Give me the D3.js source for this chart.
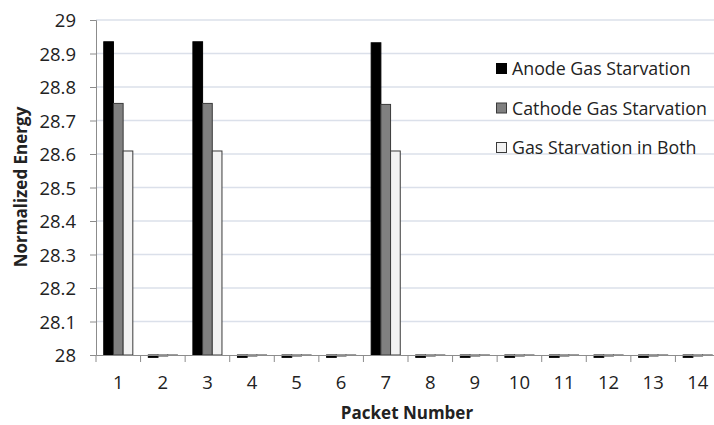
<!DOCTYPE html>
<html><head><meta charset="utf-8">
<script src="https://cdn.jsdelivr.net/npm/d3@7"></script>
<style>
html,body{margin:0;padding:0;background:#fff;overflow:hidden;}
svg{display:block;}
text{font-family:"Open Sans","Liberation Sans",sans-serif;fill:#222;}
</style></head>
<body>
<svg id="chart" width="714" height="425"></svg>
<script>
const packets = ["1","2","3","4","5","6","7","8","9","10","11","12","13","14"];
const seriesNames = ["Anode Gas Starvation","Cathode Gas Starvation","Gas Starvation in Both"];
const anode   = [28.935,27.993,28.935,27.993,27.993,27.993,28.932,27.993,27.993,27.993,27.993,27.993,27.993,27.993];
const cathode = [28.751,27.997,28.751,27.997,27.997,27.997,28.748,27.997,27.997,27.997,27.997,27.997,27.997,27.997];
const both    = [28.609,27.999,28.609,27.999,27.999,27.999,28.609,27.999,27.999,27.999,27.999,27.999,27.999,27.999];
const yTicks = [28,28.1,28.2,28.3,28.4,28.5,28.6,28.7,28.8,28.9,29];
const colors = ["#000000","#808080","#f2f2f2"];

const svg = d3.select("#chart");
const mLeft = 96, mRight = 720, mTop = 20, mBottom = 355;

const x = d3.scaleBand().domain(packets).range([mLeft, mRight]).padding(0);
const xs = d3.scaleBand().domain(seriesNames).range([0, x.bandwidth()]).paddingInner(0).paddingOuter(0.8);
const y = d3.scaleLinear().domain([28, 29]).range([mBottom, mTop]);

// gridlines
svg.append("g").selectAll("line").data(yTicks.slice(1)).join("line")
  .attr("x1", mLeft).attr("x2", mRight)
  .attr("y1", d => y(d)).attr("y2", d => y(d))
  .attr("stroke", "#dbe0ea").attr("stroke-width", 1.5);

// bars
const series = [anode, cathode, both];
series.forEach((vals, si) => {
  svg.append("g").selectAll("rect").data(vals).join("rect")
    .attr("x", (d, i) => x(packets[i]) + xs(seriesNames[si]))
    .attr("width", xs.bandwidth())
    .attr("y", d => Math.min(y(d), y(28)))
    .attr("height", d => Math.abs(y(d) - y(28)))
    .attr("fill", colors[si])
    .attr("stroke", si === 0 ? "#000" : "#3a3a3a")
    .attr("stroke-width", 1);
});

// y axis
const yAxis = svg.append("g").attr("transform", `translate(${mLeft},0)`)
  .call(d3.axisLeft(y).tickValues(yTicks).tickSize(6).tickPadding(14).tickFormat(d3.format("~g")));
yAxis.select(".domain").attr("stroke", "#8c8c8c");
yAxis.selectAll(".tick line").attr("stroke", "#8c8c8c");
yAxis.selectAll("text").style("font-size", "18.5px").attr("fill", "#222").attr("dy", "0.36em");

// x axis
const xAxis = svg.append("g").attr("transform", `translate(0,${mBottom})`)
  .call(d3.axisBottom(x).tickSize(0).tickPadding(21));
xAxis.select(".domain").attr("stroke", "#8c8c8c").attr("stroke-width", 1);
xAxis.selectAll("text").style("font-size", "18.5px").attr("fill", "#222");
svg.append("g").selectAll("line").data(packets).join("line")
  .attr("x1", d => x(d)).attr("x2", d => x(d))
  .attr("y1", mBottom).attr("y2", mBottom + 7)
  .attr("stroke", "#8c8c8c");

// axis titles
svg.append("text").attr("transform", "translate(27,187) rotate(-90)")
  .attr("text-anchor", "middle").style("font-size", "17px").style("font-weight", "bold")
  .text("Normalized Energy");
svg.append("text").attr("x", 407).attr("y", 419)
  .attr("text-anchor", "middle").style("font-size", "17px").style("font-weight", "bold")
  .text("Packet Number");

// legend
const leg = svg.append("g");
seriesNames.forEach((name, i) => {
  const yy = 63.5 + i * 39.5;
  leg.append("rect").attr("x", 496.5).attr("y", yy).attr("width", 10).attr("height", 10)
    .attr("fill", colors[i]).attr("stroke", i === 0 ? "#000" : "#3a3a3a");
  leg.append("text").attr("x", 512).attr("y", yy + 11.5).style("font-size", "17.8px").text(name);
});
</script>
</body></html>
